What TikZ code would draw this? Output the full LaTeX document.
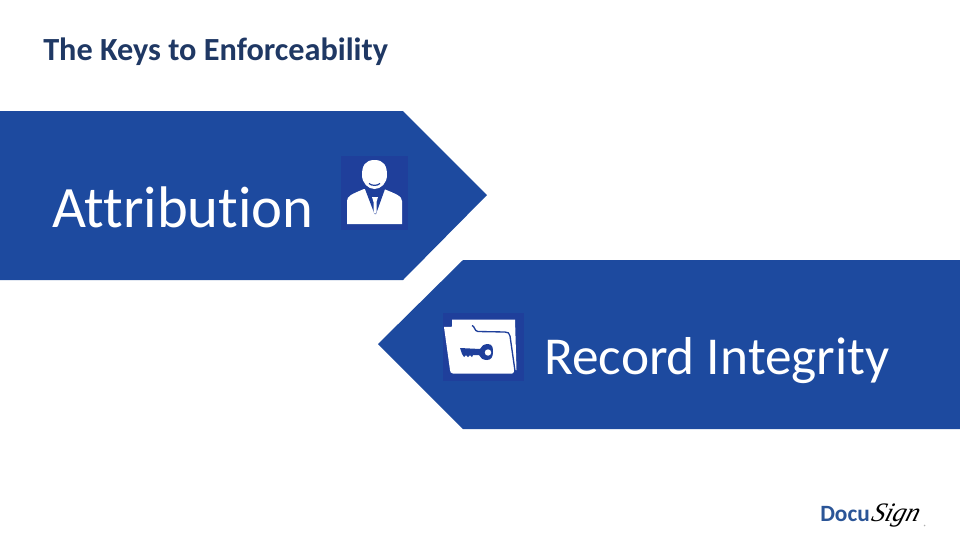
\documentclass[tikz,border=0pt]{standalone}
\usepackage{fontspec}
\setmainfont[Ligatures=NoCommon]{Carlito}
\newfontfamily\signfont{Liberation Serif}
\definecolor{band}{HTML}{1D4A9F}
\definecolor{iconbg}{HTML}{1F3F9B}
\definecolor{ink}{HTML}{1F3864}
\definecolor{logo}{HTML}{2B5597}
\tikzset{
 bandshape/.style={fill=band,draw=none},
 iconback/.style={fill=iconbg,draw=none},
 iconfront/.style={fill=white,draw=none},
 icondark/.style={fill=iconbg,draw=none},
 bandtext/.style={text=white,inner sep=0pt,anchor=base west},
}
\begin{document}
\begin{tikzpicture}[x=0.75pt,y=-0.75pt]
\useasboundingbox (0,0) rectangle (960,540);
\fill[white] (0,0) rectangle (960,540);
\node[inner sep=0pt,anchor=base west,text=ink,font=\bfseries\fontsize{24.2}{28}\selectfont] (title) at (43,60) {The Keys to Enforceability};
% bands
\path[bandshape] (0,111) -- (403,111) -- (487,195) -- (403,280) -- (0,280) -- cycle;
\path[bandshape] (960,260) -- (463,260) -- (378,344) -- (463,429) -- (960,429) -- cycle;
\node[bandtext,font=\fontsize{44}{52}\selectfont] (attr) at (52,227) {Attribution};
\node[bandtext,font=\fontsize{40}{48}\selectfont] (rec) at (544,374) {Record Integrity};
% person icon
\path[iconback] (341,156) rectangle (408,230);
\path[iconfront] (347,224) -- (347,201) .. controls (347,196) and (352,194) .. (364,189) -- (384,189) .. controls (396,194) and (402,196) .. (402,201) -- (402,224) -- cycle;
\path[icondark] (365,189) -- (385,189) -- (376,214) -- (374.500,214) -- cycle;
\path[iconfront] (372,197) -- (378,197) -- (376.500,202) -- (376.500,212) -- (375,214) -- (373.500,212) -- (373.500,202) -- cycle;
\path[iconfront] (362,175) .. controls (362,166) and (365,160) .. (374.500,160) .. controls (384,160) and (387,166) .. (387,175) .. controls (387,183) and (381,189) .. (374.500,189) .. controls (368,189) and (362,183) .. (362,175) -- cycle;
\draw[iconbg,line width=0.9pt] (369,183.500) .. controls (372,186) and (377,186) .. (380,183.500);
% folder icon
\path[iconback] (443,313) rectangle (524,381);
\path[iconfront] (452,319.500) -- (515,319.500) -- (516.500,370) -- (452,370) -- cycle;
\path[iconfront] (444,327) -- (472,326) .. controls (475,327) and (474,332) .. (478,332.500) -- (505,333) .. controls (507,333) and (508.500,334) .. (509,337) -- (514,371) .. controls (514,372.500) and (513,373.500) .. (512,373.500) -- (453,373.500) .. controls (451,373.500) and (450,372) .. (450,370) -- cycle;
\draw[iconbg,line width=1pt] (472,325.500) .. controls (475,326) and (474,331) .. (478,331.500) -- (505,332) .. controls (508,332) and (509.500,333) .. (510,336) -- (515,371);
\path[icondark] (460,348) -- (480,349) .. controls (481,346) and (484,344) .. (488,344) .. controls (493,344) and (493,349) .. (493,352) .. controls (493,357) and (491,360) .. (487,360) .. controls (483,360) and (480,358) .. (479,355) -- (473,355) -- (472,357) -- (470,355) -- (468,357) -- (466,355) -- (464,357) -- (462,354) -- cycle;
\path[iconfront] (488,352.500) circle (3.200);
% logo
\node[inner sep=0pt,anchor=base west,text=logo,font=\bfseries\fontsize{17.500}{20}\selectfont] (docu) at (820,521) {Docu};
\node[inner sep=0pt,anchor=base west,text=black,xslant=0.3,font=\signfont\itshape\fontsize{20}{24}\selectfont] (sign) at (870,521) {Sign};
\node[inner sep=0pt,text=black!70,font=\fontsize{3.500}{4}\selectfont] (reg) at (925,527) {®};
\end{tikzpicture}
\end{document}
